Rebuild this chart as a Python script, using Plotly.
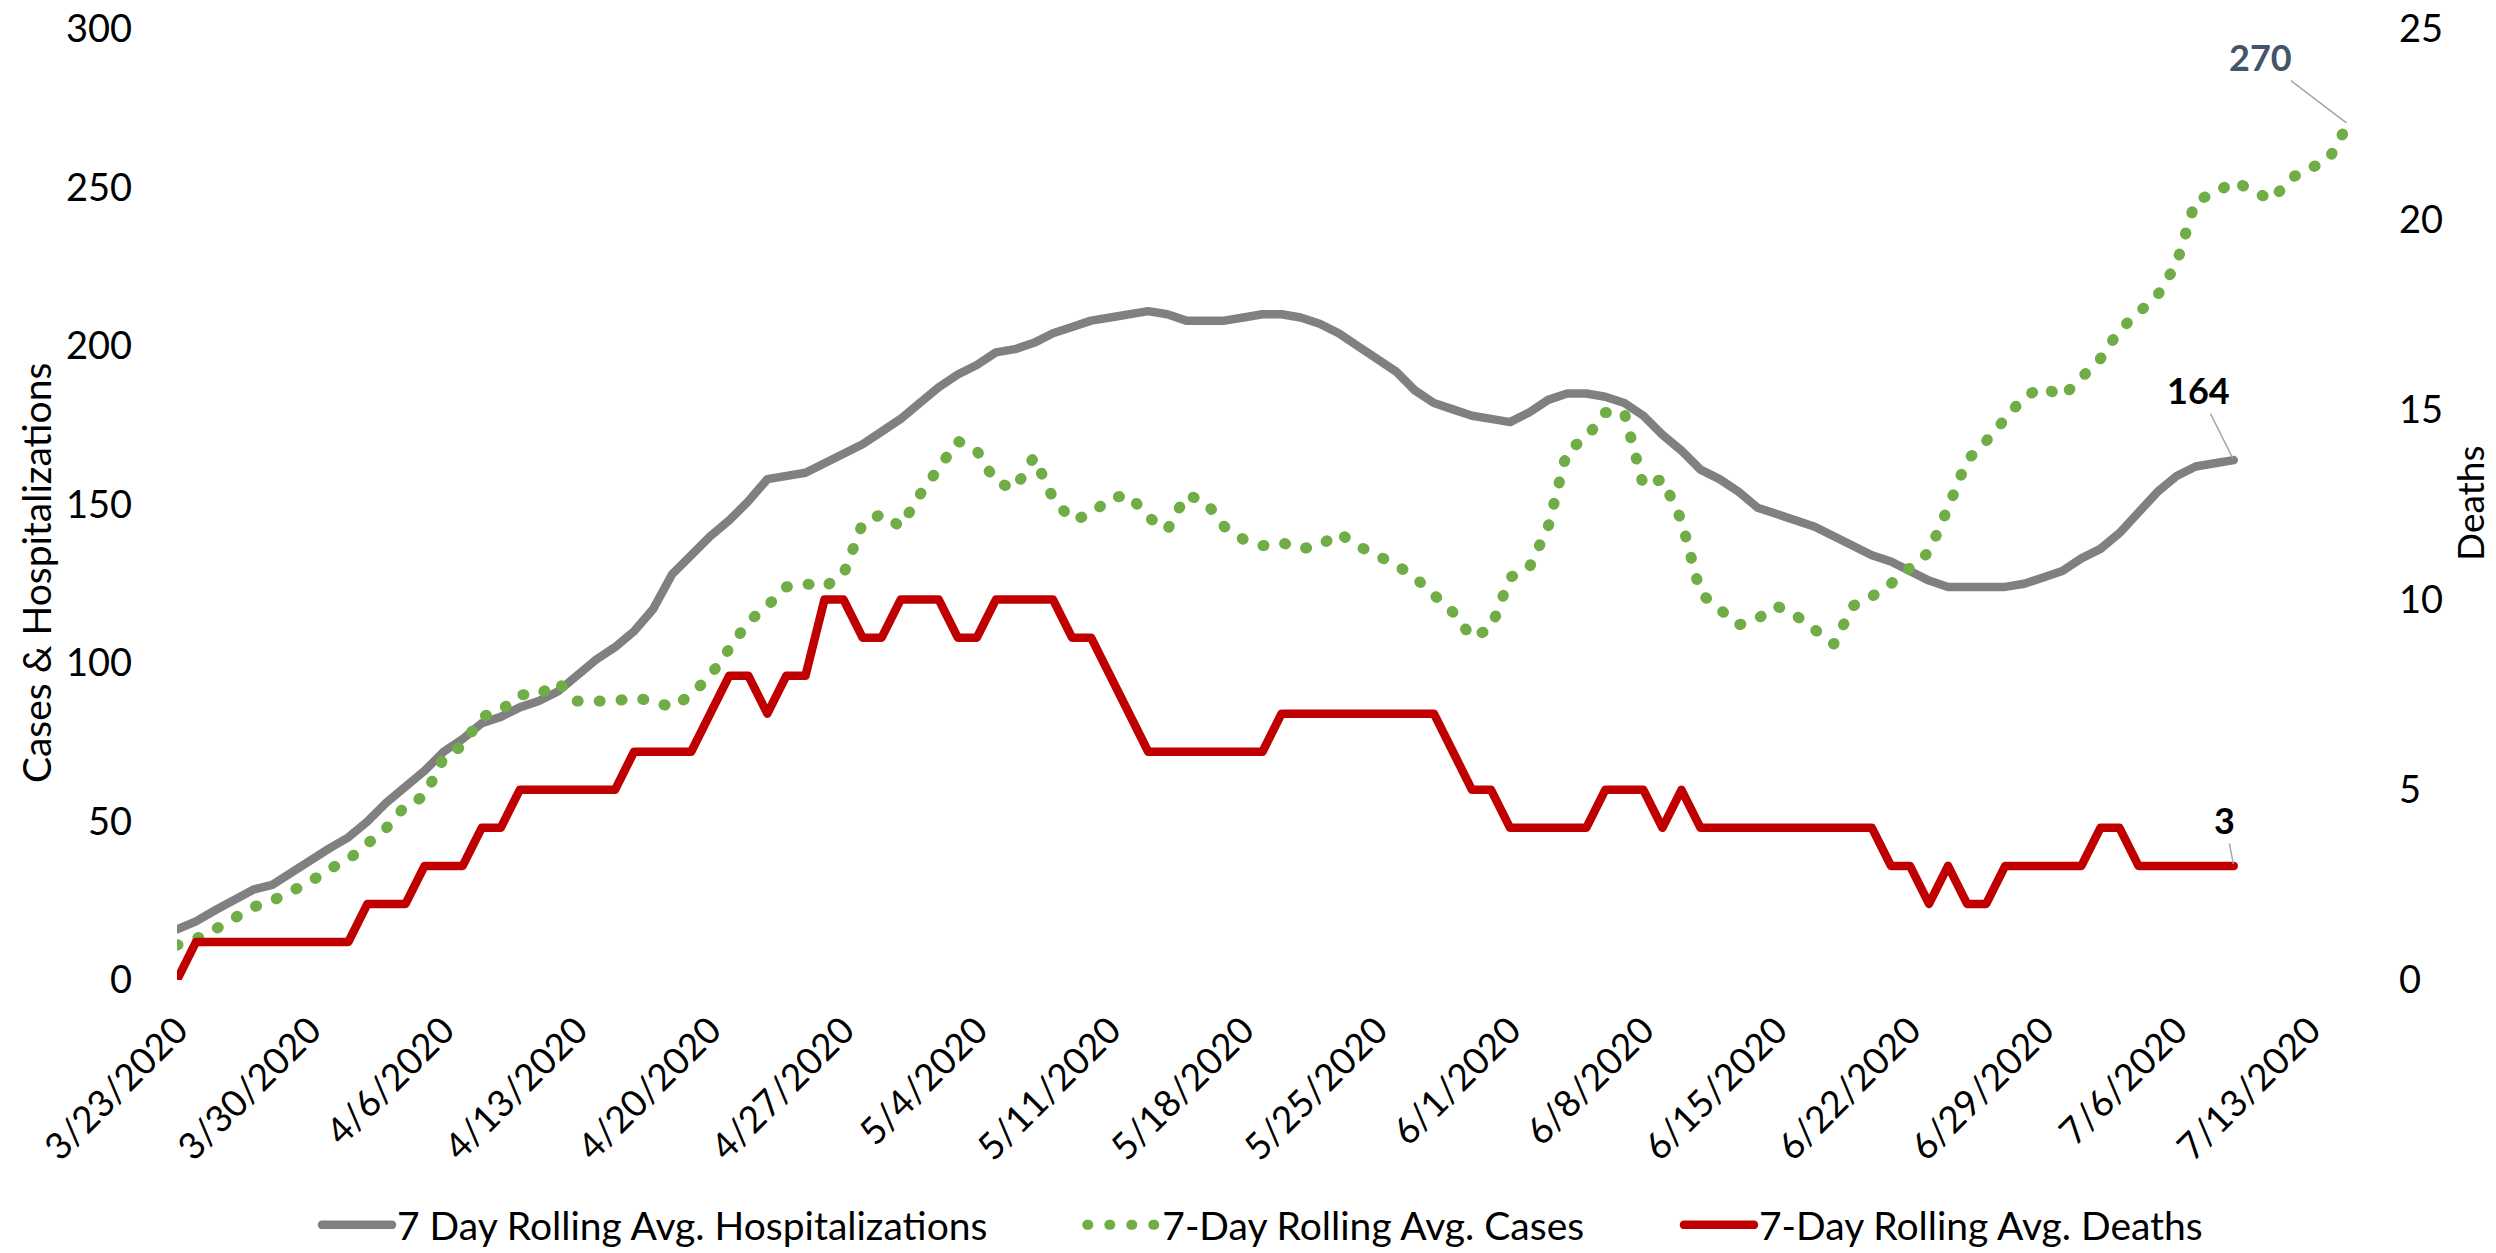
import pandas as pd
import plotly.graph_objects as go

# ---- data ----
dates = pd.date_range("2020-03-23", "2020-07-15", freq="D")

hosp = [16, 18.5, 22, 25, 28.5, 30, 34, 37.5, 41.5, 45,
        50, 56, 61, 66, 72, 76, 81, 83, 86, 88,
        91, 96, 101, 105, 110, 117, 128, 134, 140, 145,
        151, 158, 159, 160, 163, 166, 169, 173, 177, 182,
        187, 191, 194, 198, 199, 201, 204, 206, 208, 209,
        210, 211, 210, 208, 208, 208, 209, 210, 210, 209,
        207, 204, 200, 196, 192, 186, 182, 180, 178, 177,
        176, 179, 183, 185, 185, 184, 182, 178, 172, 167,
        161, 158, 154, 149, 147, 145, 143, 140, 137, 134,
        132, 129, 126, 124, 124, 124, 124, 125, 127, 129,
        133, 136, 141, 148, 154, 159, 162, 163, 164]

cases = [11, 13, 16, 20, 23, 25, 28, 31, 35, 38,
         43, 48, 55, 58, 70, 74, 83, 85, 90, 90,
         94, 88, 88, 88, 89, 88, 86, 90, 96, 105,
         113, 118, 124, 125, 124, 128, 144, 147, 143, 153,
         162, 170, 167, 157, 155, 165, 152, 145, 147, 152,
         153, 146, 142, 153, 151, 143, 139, 137, 138, 136,
         137, 141, 137, 134, 131, 127, 121, 116, 108, 111,
         127, 130, 143, 167, 171, 179, 179, 156, 158, 145,
         122, 117, 112, 114, 118, 115, 110, 106, 118, 121,
         125, 130, 135, 149, 164, 170, 177, 184, 187, 184,
         190, 196, 205, 210, 216, 226, 246, 248, 252, 249,
         246, 253, 256, 259, 270]

deaths = [0, 1, 1, 1, 1, 1, 1, 1, 1, 1,
          2, 2, 2, 3, 3, 3, 4, 4, 5, 5,
          5, 5, 5, 5, 6, 6, 6, 6, 7, 8,
          8, 7, 8, 8, 10, 10, 9, 9, 10, 10,
          10, 9, 9, 10, 10, 10, 10, 9, 9, 8,
          7, 6, 6, 6, 6, 6, 6, 6, 7, 7,
          7, 7, 7, 7, 7, 7, 7, 6, 5, 5,
          4, 4, 4, 4, 4, 5, 5, 5, 4, 5,
          4, 4, 4, 4, 4, 4, 4, 4, 4, 4,
          3, 3, 2, 3, 2, 2, 3, 3, 3, 3,
          3, 4, 4, 3, 3, 3, 3, 3, 3]

tick_dates = pd.date_range("2020-03-23", "2020-07-13", freq="7D")
tick_text = [f"{d.month}/{d.day}/{d.year}" for d in tick_dates]

names = ["7 Day Rolling Avg. Hospitalizations",
         "7-Day Rolling Avg. Cases",
         "7-Day Rolling Avg. Deaths"]
left_title = "Cases & Hospitalizations"
right_title = "Deaths"

FONT = "Lato"
PAD = "\u00a0" * 9  # spacing between legend entries

fig = go.Figure()
fig.add_trace(go.Scatter(
    x=dates[:len(hosp)], y=hosp, mode="lines", name=names[0] + PAD,
    line=dict(color="#808080", width=8.5), cliponaxis=False))
fig.add_trace(go.Scatter(
    x=dates[:len(cases)], y=cases, mode="lines", name=names[1] + PAD,
    line=dict(color="#70AD47", width=11, dash="1px,21px"), cliponaxis=False))
fig.add_trace(go.Scatter(
    x=dates[:len(deaths)], y=deaths, mode="lines", name=names[2],
    line=dict(color="#C00000", width=8.5), yaxis="y2", cliponaxis=False))

# data labels on last points
fig.add_annotation(x=dates[len(cases) - 1], y=cases[-1], xref="x", yref="y",
                   text=f"<b>{cases[-1]}</b>", font=dict(family=FONT, size=36, color="#44546A"),
                   showarrow=True, arrowhead=0, arrowwidth=1.5, arrowcolor="#A6A6A6",
                   ax=-88, ay=-67, standoff=2)
fig.add_annotation(x=dates[len(hosp) - 1], y=hosp[-1], xref="x", yref="y",
                   text=f"<b>{hosp[-1]}</b>", font=dict(family=FONT, size=36, color="#000000"),
                   showarrow=True, arrowhead=0, arrowwidth=1.5, arrowcolor="#A6A6A6",
                   ax=-35, ay=-70, standoff=2)
fig.add_annotation(x=dates[len(deaths) - 1], y=deaths[-1], xref="x", yref="y2",
                   text=f"<b>{deaths[-1]}</b>", font=dict(family=FONT, size=36, color="#000000"),
                   showarrow=True, arrowhead=0, arrowwidth=1.5, arrowcolor="#A6A6A6",
                   ax=-9, ay=-46, standoff=2)

# axis titles (placed as in the reference)
fig.add_annotation(xref="paper", yref="paper", x=-0.0649, y=0.428,
                   xanchor="center", yanchor="middle", textangle=-90,
                   text=left_title, showarrow=False,
                   font=dict(family=FONT, size=39, color="#000000"))
fig.add_annotation(xref="paper", yref="paper", x=1.0562, y=0.5016,
                   xanchor="center", yanchor="middle", textangle=-90,
                   text=right_title, showarrow=False,
                   font=dict(family=FONT, size=37, color="#000000"))

fig.update_layout(
    template="none",
    width=2496, height=1253, autosize=False,
    margin=dict(l=177, r=148, t=29, b=273, autoexpand=False),
    paper_bgcolor="white", plot_bgcolor="white",
    font=dict(family=FONT, size=38, color="#000000"),
    showlegend=True,
    legend=dict(orientation="h", x=0.5, xanchor="center", y=-0.224, yanchor="top",
                font=dict(family=FONT, size=39, color="#000000"),
                itemwidth=70, tracegroupgap=0, bgcolor="rgba(0,0,0,0)"),
    xaxis=dict(type="date", range=[dates[0], dates[-1]], automargin=False,
               tickmode="array", tickvals=list(tick_dates), ticktext=tick_text,
               tickangle=-45, showgrid=False, zeroline=False, showline=False,
               ticks="", ticklabelstandoff=20,
               tickfont=dict(family=FONT, size=37, color="#000000")),
    yaxis=dict(range=[0, 300], dtick=50, showgrid=False, zeroline=False, automargin=False,
               showline=False, ticks="", ticklabelstandoff=44,
               tickfont=dict(family=FONT, size=38, color="#000000")),
    yaxis2=dict(range=[0, 25], dtick=5, overlaying="y", side="right", automargin=False,
                showgrid=False, zeroline=False, showline=False, ticks="",
                ticklabelstandoff=50,
                tickfont=dict(family=FONT, size=38, color="#000000")),
)

post = """
(function(){
  document.body.style.margin = '0';
  document.body.style.padding = '0';
  function fix(){
    document.querySelectorAll('path.js-line').forEach(function(p){
      p.style.strokeLinecap='round'; p.style.strokeLinejoin='round';
    });
  }
  fix();
  var gd = document.getElementById('{plot_id}');
  if (gd && gd.on) { gd.on('plotly_afterplot', fix); }
})();
"""

fig.write_html("out.html", post_script=post, config={"displayModeBar": False})
